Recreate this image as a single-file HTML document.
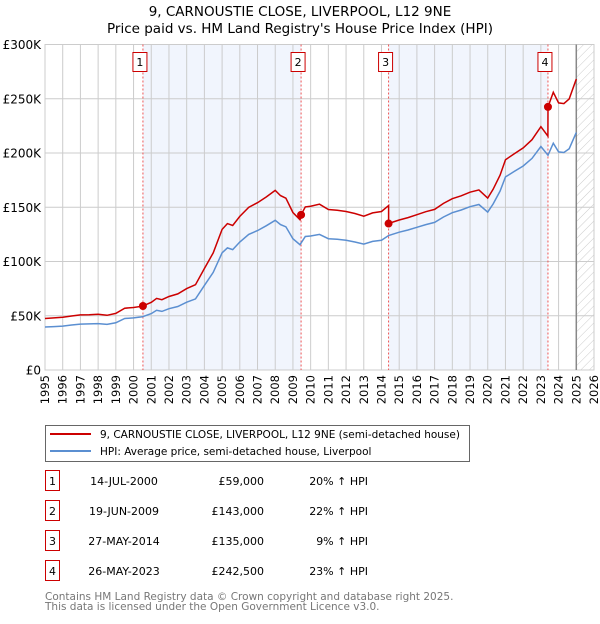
<!DOCTYPE html>
<html><head><meta charset="utf-8"><style>
body{margin:0;background:#fff;font-family:"DejaVu Sans","Liberation Sans",sans-serif;}
svg text{font-family:"DejaVu Sans","Liberation Sans",sans-serif;}
</style></head><body>
<svg id="c" width="600" height="620" xmlns="http://www.w3.org/2000/svg">
<defs><pattern id="hatch" width="6" height="6" patternUnits="userSpaceOnUse" patternTransform="rotate(45)"><line x1="0" y1="0" x2="0" y2="6" stroke="#ccc" stroke-width="1"/></pattern></defs>
<text x="300" y="16" text-anchor="middle" font-size="13.5">9, CARNOUSTIE CLOSE, LIVERPOOL, L12 9NE</text>
<text x="300" y="33" text-anchor="middle" font-size="13.5">Price paid vs. HM Land Registry's House Price Index (HPI)</text>
<g id="plot"></g>
<g>
<rect x="45.5" y="425.5" width="424" height="36" fill="#fff" stroke="#666"/>
<line x1="50" y1="434" x2="91" y2="434" stroke="#cc0000" stroke-width="2"/>
<text x="100" y="438" font-size="10.5">9, CARNOUSTIE CLOSE, LIVERPOOL, L12 9NE (semi-detached house)</text>
<line x1="50" y1="451" x2="91" y2="451" stroke="#5b8fd1" stroke-width="2"/>
<text x="100" y="455" font-size="10.5">HPI: Average price, semi-detached house, Liverpool</text>
</g>
<g id="table" font-size="11"></g>
<text x="45" y="600" font-size="10.5" fill="#777">Contains HM Land Registry data © Crown copyright and database right 2025.</text>
<text x="45" y="610" font-size="10.5" fill="#777">This data is licensed under the Open Government Licence v3.0.</text>
</svg>
<script>
const years=[1995,1996,1997,1998,1999,2000,2001,2002,2003,2004,2005,2006,2007,2008,2009,2010,2011,2012,2013,2014,2015,2016,2017,2018,2019,2020,2021,2022,2023,2024,2025,2026];
const yTicks=[0,50000,100000,150000,200000,250000,300000];
const yTickLabels=["£0","£50K","£100K","£150K","£200K","£250K","£300K"];
const hpiT=[1995,1995.5,1996,1996.5,1997,1997.5,1998,1998.5,1999,1999.5,2000,2000.5,2001,2001.3,2001.6,2002,2002.5,2003,2003.5,2004,2004.5,2005,2005.3,2005.6,2006,2006.5,2007,2007.5,2008,2008.3,2008.6,2009,2009.4,2009.7,2010,2010.5,2011,2011.5,2012,2012.5,2013,2013.5,2014,2014.4,2015,2015.5,2016,2016.5,2017,2017.5,2018,2018.5,2019,2019.5,2020,2020.3,2020.7,2021,2021.5,2022,2022.5,2023,2023.4,2023.7,2024,2024.3,2024.6,2025];
const hpiV=[39600,40000,40500,41500,42300,42500,42800,42000,43500,47500,48000,49000,52000,55000,54000,56500,58500,62500,65500,78000,90000,108000,112500,111000,118000,125000,128500,133000,138000,134000,132000,121000,115500,123000,123500,125000,121000,120500,119500,118000,116000,118500,119500,124000,127000,129000,131500,134000,136000,141000,145000,147500,150500,152500,145500,153000,165000,178000,183000,188000,195000,206000,198000,209000,201000,200500,204000,219000];
const saleT=[2000.53,2009.46,2014.4,2023.4];
const saleP=[59000,143000,135000,242500];
const saleDates=["14-JUL-2000","19-JUN-2009","27-MAY-2014","26-MAY-2023"];
const salePriceLabels=["£59,000","£143,000","£135,000","£242,500"];
const saleHpiLabels=["20% ↑ HPI","22% ↑ HPI","9% ↑ HPI","23% ↑ HPI"];

const X0=45,X1=594,Y0=370,Y1=44.5;
const xs=t=>X0+(t-1995)/(2026-1995)*(X1-X0);
const ys=v=>Y0-v/300000*(Y0-Y1);
const NS="http://www.w3.org/2000/svg";
const plot=document.getElementById('plot');
function mk(tag,attrs,parent){const e=document.createElementNS(NS,tag);for(const k in attrs)e.setAttribute(k,attrs[k]);(parent||plot).appendChild(e);return e;}
function hpiAt(t){for(let i=0;i<hpiT.length-1;i++){if(t>=hpiT[i]&&t<=hpiT[i+1]){return hpiV[i]+(hpiV[i+1]-hpiV[i])*(t-hpiT[i])/(hpiT[i+1]-hpiT[i]);}}return hpiV[hpiV.length-1];}

for(let i=0;i<saleT.length;i+=2){
  const end=i+1<saleT.length?saleT[i+1]:2025;
  const r=mk('rect',{x:xs(saleT[i]),y:Y1,width:xs(end)-xs(saleT[i]),height:Y0-Y1,fill:'#eef3fc',opacity:0.8});
  
  
}
const h=mk('rect',{x:xs(2025),y:Y1,width:X1-xs(2025),height:Y0-Y1,fill:'url(#hatch)'});


years.forEach(y=>{const l=mk('line',{x1:xs(y),x2:xs(y),y1:Y1,y2:Y0,stroke:'#ccc','stroke-width':1});


const t=mk('text',{x:0,y:0,'font-size':11.5,'text-anchor':'end',transform:`translate(${xs(y)+4},${Y0+5}) rotate(-90)`});t.textContent=y;

});
yTicks.forEach((v,i)=>{const l=mk('line',{x1:X0,x2:X1,y1:ys(v),y2:ys(v),stroke:'#ccc','stroke-width':1});


const t=mk('text',{x:X0-4,y:ys(v)+4.5,'font-size':12,'text-anchor':'end'});t.textContent=yTickLabels[i];

});
const b=mk('rect',{x:X0,y:Y1,width:X1-X0,height:Y0-Y1,fill:'none',stroke:'#ccc'});


const nl=mk('line',{x1:xs(2025),x2:xs(2025),y1:Y1,y2:Y0,stroke:'#888','stroke-width':1.5});


saleT.forEach((t,i)=>{
  const l=mk('line',{x1:xs(t),x2:xs(t),y1:Y1,y2:Y0,stroke:'#e55','stroke-width':1,'stroke-dasharray':'2,2'});
  
  
  const r=mk('rect',{x:xs(t)-10,y:52.5,width:14,height:19,fill:'#fff',stroke:'#cc0000'});
  
  
  const tx=mk('text',{x:xs(t)-3,y:66,'font-size':11,'text-anchor':'middle'});tx.textContent=i+1;
  
  
});
let d='';hpiT.forEach((t,i)=>{d+=(i?'L':'M')+xs(t).toFixed(1)+','+ys(hpiV[i]).toFixed(1);});
const hp=mk('path',{d:d,fill:'none',stroke:'#5b8fd1','stroke-width':1.5});


function factorAt(t){let k=0;for(let i=0;i<saleT.length;i++){if(t>=saleT[i])k=i;}return saleP[k]/hpiAt(saleT[k]);}
let pts=[];
hpiT.forEach((t,i)=>{
  saleT.forEach((s,j)=>{if(j>0&&s>(i?hpiT[i-1]:0)&&s<=t){const f0=saleP[j-1]/hpiAt(saleT[j-1]);pts.push([s-0.001,hpiAt(s)*f0]);pts.push([s,saleP[j]]);}});
  pts.push([t,hpiV[i]*factorAt(t)]);
});
pts.sort((a,b)=>a[0]-b[0]);
d='';pts.forEach((p,i)=>{d+=(i?'L':'M')+xs(p[0]).toFixed(1)+','+ys(p[1]).toFixed(1);});
const pp=mk('path',{d:d,fill:'none',stroke:'#cc0000','stroke-width':1.5});


saleT.forEach((t,i)=>{const c=mk('circle',{cx:xs(t),cy:ys(saleP[i]),r:4,fill:'#cc0000'});

});
const tb=document.getElementById('table');
saleT.forEach((t,i)=>{
  const y=483+i*30;
  const r=mk('rect',{x:45.5,y:y-12.5,width:14,height:20,fill:'#fff',stroke:'#cc0000'},tb);
  
  
  const n=mk('text',{x:52.5,y:y+2,'text-anchor':'middle'},tb);n.textContent=i+1;
  
  
  const a=mk('text',{x:124,y:y+2,'text-anchor':'middle'},tb);a.textContent=saleDates[i];
  
  
  const p=mk('text',{x:264,y:y+2,'text-anchor':'end'},tb);p.textContent=salePriceLabels[i];
  
  
  const q=mk('text',{x:368,y:y+2,'text-anchor':'end'},tb);q.textContent=saleHpiLabels[i];
  
  
});
</script>
</body></html>
